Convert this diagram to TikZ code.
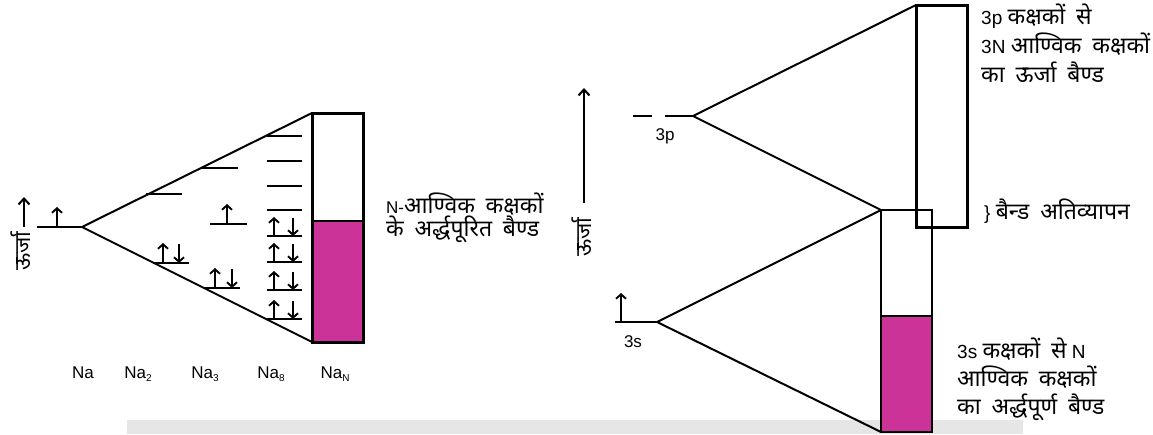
\documentclass[tikz,border=0pt]{standalone}
\usepackage{fontspec}
\setmainfont{Liberation Sans}
\newfontfamily\deva[Script=Devanagari,WordSpace=1.8]{Noto Sans}
\usetikzlibrary{arrows.meta}
\definecolor{band}{HTML}{CC3399}
\definecolor{barg}{HTML}{E6E6E6}
\newcommand{\dv}[1]{{\deva\fontsize{23}{24}\selectfont #1}}
\begin{document}
\begin{tikzpicture}[x=1pt,y=-1pt,
  ln/.style={line width=2pt},
  lvl/.style={line width=2.6pt},
  spinup/.style={line width=1.9pt,-{Straight Barb[length=4.5pt,width=10pt]}},
  boxd/.style={line width=3pt},
  thinbox/.style={line width=2.4pt},
  elab/.style={font=\fontsize{17}{20}\selectfont, inner sep=0pt, anchor=base},
  dlab/.style={font=\fontsize{17}{20}\selectfont, inner sep=0pt, anchor=base west},
  rlab/.style={font=\fontsize{19}{22}\selectfont, inner sep=0pt, anchor=base west},
  energy/.style={line width=2pt,-{Straight Barb[length=6pt,width=11pt]}},
  elabel/.style={font=\deva\fontsize{22}{24}\selectfont, inner sep=0pt, rotate=90}]
\useasboundingbox (0,0) rectangle (1153,434);
\fill[barg] (127,420) rectangle (1023,434);

% ---------- left diagram ----------
\coordinate (eL0) at (24,227); \coordinate (eL1) at (24,197);
\draw[energy] (eL0) -- (eL1);
\node[elabel] (eLlab) at (21,251) {ऊर्जा};

\coordinate (naL) at (37,227); \coordinate (naA) at (82,227);
\coordinate (bTL) at (312,113); \coordinate (bBL) at (312,342);
\coordinate (bTR) at (363,113); \coordinate (bBR) at (363,342);
\coordinate (bML) at (312,221); \coordinate (bMR) at (363,221);
\fill[band] (bML) rectangle (bBR);
\draw[boxd] (bTL) rectangle (bBR);
\draw[line width=2pt] (bML) -- (bMR);
\draw[ln] (naA) -- (bTL);
\draw[ln] (naA) -- (bBL);
\draw[lvl] (naL) -- (naA);
\draw[spinup] (57,227) -- (57,207);

% Na2
\draw[lvl] (146,194) -- (182,194);
\draw[lvl] (153,263) -- (189,263);
\draw[spinup] (163,263) -- (163,243);
\draw[spinup] (179,244) -- (179,263);
% Na3
\draw[lvl] (201,168) -- (238,168);
\draw[lvl] (210,224) -- (247,224);
\draw[spinup] (227,224) -- (227,204);
\draw[lvl] (204,288) -- (240,288);
\draw[spinup] (215,288) -- (215,268);
\draw[spinup] (232,269) -- (232,288);
% Na8
\foreach \yy in {136,161,186,210}{\draw[lvl] (267,\yy) -- (302,\yy);}
\foreach \yy in {236,262,290,319}{
  \draw[lvl] (267,\yy) -- (302,\yy);
  \draw[spinup] (274,\yy) -- (274,\yy-19);
  \draw[spinup] (293,\yy-18) -- (293,\yy);}

\node[elab] (l1) at (83,378) {Na};
\node[elab] (l2) at (138,378) {Na{\fontsize{10}{10}\selectfont\raisebox{-3pt}{2}}};
\node[elab] (l3) at (205,378) {Na{\fontsize{10}{10}\selectfont\raisebox{-3pt}{3}}};
\node[elab] (l4) at (271,378) {Na{\fontsize{10}{10}\selectfont\raisebox{-3pt}{8}}};
\node[elab] (l5) at (335,378) {Na{\fontsize{10}{10}\selectfont\raisebox{-3pt}{N}}};

\node[dlab] (t1a) at (386,213) {N-\dv{आण्विक कक्षकों}};
\node[dlab] (t1b) at (386,236) {\dv{के अर्द्धपूरित बैण्ड}};

% ---------- right diagram ----------
\coordinate (eR0) at (584,203); \coordinate (eR1) at (584,88);
\draw[energy] (eR0) -- (eR1);
\node[elabel] (eRlab) at (582,237) {ऊर्जा};

\coordinate (pA) at (693,116);
\draw[line width=2.4pt] (633,116) -- (652,116);
\draw[line width=2.4pt] (665,116) -- (pA);
\node[elab] (p3) at (665,140) {3p};

\coordinate (pTL) at (916,5); \coordinate (pBR) at (967,227);
\coordinate (sTL) at (881,210); \coordinate (sBL) at (881,432);
\coordinate (sBR) at (932,432); \coordinate (sML) at (881,316); \coordinate (sMR) at (932,316);

\fill[band] (sML) rectangle (sBR);
\draw[thinbox] (sTL) rectangle (sBR);
\draw[line width=2pt] (sML) -- (sMR);
\draw[boxd] (pTL) rectangle (pBR);
\draw[ln] (pA) -- (pTL);
\draw[ln] (pA) -- (sTL);

\coordinate (sL) at (615,322); \coordinate (sA) at (657,322);
\draw[lvl] (sL) -- (sA);
\draw[spinup] (621,322) -- (621,293);
\node[elab] (s3) at (633,347) {3s};
\draw[ln] (sA) -- (sTL);
\draw[ln] (sA) -- (sBL);

\node[rlab] (r1a) at (981,24) {3p \dv{कक्षकों से}};
\node[rlab] (r1b) at (981,53) {3N \dv{आण्विक कक्षकों}};
\node[rlab] (r1c) at (981,82) {\dv{का ऊर्जा बैण्ड}};
\node[rlab] (r2) at (984,219) {\} \dv{बैन्ड अतिव्यापन}};
\node[rlab] (r3a) at (957,358) {3s \dv{कक्षकों से} N};
\node[rlab] (r3b) at (957,386) {\dv{आण्विक कक्षकों}};
\node[rlab] (r3c) at (957,414) {\dv{का अर्द्धपूर्ण बैण्ड}};
\end{tikzpicture}
\end{document}
